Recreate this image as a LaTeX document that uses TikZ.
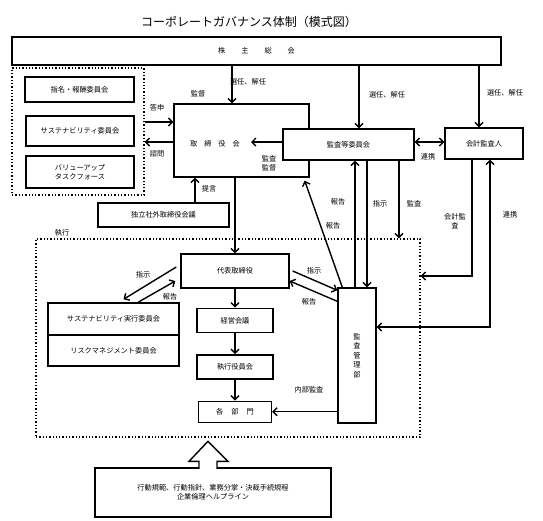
\documentclass[tikz,border=0pt]{standalone}
\usepackage{fontspec}
\setmainfont{Noto Sans CJK JP}
\usetikzlibrary{positioning, arrows.meta}
\newcommand{\smallja}{\fontsize{7.2}{9}\selectfont}

\begin{document}
\begin{tikzpicture}[
    x=1pt, y=-1pt,
    node distance = 19pt,
    box/.style = {rectangle, draw, line width=1.4pt, align=center, inner sep=1pt, font=\smallja, fill=white},
    grp/.style = {rectangle, draw, dotted, line width=1.3pt},
    lab/.style = {inner sep=0pt, align=center, font=\smallja},
    arrow/.style = {-{Straight Barb[length=4pt, width=8pt]}, line width=1.4pt},
    biarrow/.style = {{Straight Barb[length=4pt, width=8pt]}-{Straight Barb[length=4pt, width=8pt]}, line width=1.4pt}
]
    \useasboundingbox (0,0) rectangle (543,520);

    \node[font=\fontsize{12}{14}\selectfont] (TITLE) at (249,22) {コーポレートガバナンス体制（模式図）};

    \node[box, minimum width=489pt, minimum height=28pt] (AGM) at (256.5,51) {株\hspace{16pt}主\hspace{16pt}総\hspace{16pt}会};

    % left committees
    \node[grp, minimum width=132pt, minimum height=127pt] (GRP) at (78,131.5) {};
    \node[box, minimum width=109pt, minimum height=25pt] (NOMCOM) at (79.5,89.5) {指名・報酬委員会};
    \node[box, minimum width=108pt, minimum height=30pt] (SUSCOM) at (80,131) {サステナビリティ委員会};
    \node[box, minimum width=108pt, minimum height=32pt] (VALUP) at (80,172) {バリューアップ\\タスクフォース};

    \node[box, minimum width=135pt, minimum height=73pt] (BOARD) at (241.5,140.5) {};
    \node[lab] (BOARDTXT) at (215,144) {取\hspace{7pt}締\hspace{7pt}役\hspace{7pt}会};
    \node[box, minimum width=131pt, minimum height=31pt] (AUDCOM) at (348.5,144.5) {監査等委員会};
    \node[box, minimum width=78pt, minimum height=31pt] (ACCAUD) at (484,143.5) {会計監査人};
    \node[box, minimum width=131pt, minimum height=24pt] (INDEP) at (163.5,215) {独立社外取締役会議};

    % execution
    \node[grp, minimum width=384pt, minimum height=198pt] (EXEC) at (228,338) {};
    \node[lab] at (62,233) {執行};
    \node[box, minimum width=108pt, minimum height=34pt] (REP) at (235,271) {代表取締役};
    \node[box, minimum width=76pt, minimum height=24pt, below=of REP] (MGMT) {経営会議};
    \node[box, minimum width=76pt, minimum height=24pt, below=21pt of MGMT] (OFFICERS) {執行役員会};
    \node[box, minimum width=73pt, minimum height=21pt, below=21pt of OFFICERS] (DEPTS) {各\hspace{8pt}部\hspace{8pt}門};
    \node[box, minimum width=131pt, minimum height=32pt] (SUSEXE) at (113.5,319) {サステナビリティ実行委員会};
    \node[box, minimum width=131pt, minimum height=31pt, below=-1.4pt of SUSEXE] (RISK) {リスクマネジメント委員会};
    \node[box, minimum width=38pt, minimum height=135pt, font=\fontsize{7.2}{9.5}\selectfont] (IAD) at (357,355.5) {監\\査\\管\\理\\部};

    \node[box, minimum width=236pt, minimum height=49pt] (CODE) at (213,492.5) {行動規範、行動指針、業務分掌・決裁手続規程\\企業倫理ヘルプライン};
    \draw[line width=1.4pt, fill=white, shift={(CODE.north)}]
        (-14,1.5) -- (-14,-6) -- (-24,-6) -- (-5,-26) -- (15,-6) -- (4,-6) -- (4,1.5);

    % general meeting
    \draw[arrow] (232,0 |- AGM.south) -- (232,0 |- BOARD.north);
    \draw[arrow] (359,0 |- AGM.south) -- (359,0 |- AUDCOM.north);
    \draw[arrow] (479,0 |- AGM.south) -- (479,0 |- ACCAUD.north);
    \node[lab] at (248,82) {選任、解任};
    \node[lab] at (387,95) {選任、解任};
    \node[lab] at (505,93) {選任、解任};
    \node[lab] at (198,94) {監督};

    % board
    \draw[arrow] (GRP.east |- 0,122) -- (BOARD.west |- 0,122);
    \draw[arrow] (BOARD.west |- 0,142) -- (GRP.east |- 0,142);
    \node[lab] at (157,108) {答申};
    \node[lab] at (157,154) {諮問};
    \coordinate (BDIN) at (251,142);
    \draw[arrow] (AUDCOM.west |- BDIN) -- (BDIN);
    \node[lab] at (269,163) {監査\\監督};
    \draw[arrow] (195,0 |- INDEP.north) -- (195,0 |- BOARD.south);
    \node[lab] at (209,189) {提言};
    \draw[arrow] (REP.north |- BOARD.south) -- (REP.north);

    % audit committee
    \draw[biarrow] (AUDCOM.east |- 0,142) -- (ACCAUD.west |- 0,142);
    \node[lab] at (428,157) {連携};
    \draw[arrow] (355,0 |- IAD.north) -- (355,0 |- AUDCOM.south);
    \draw[arrow] (367,0 |- AUDCOM.south) -- (367,0 |- IAD.north);
    \draw[arrow] (399,0 |- AUDCOM.south) -- (399,0 |- EXEC.north);
    \node[lab] at (338,202) {報告};
    \node[lab] at (380,204) {指示};
    \node[lab] at (414,204) {監査};
    \draw[arrow] ([xshift=5pt]IAD.north west) -- ([xshift=-5pt,yshift=-3pt]BOARD.south east);
    \node[lab] at (333,226) {報告};

    % accounting auditor
    \draw[arrow] (472,0 |- ACCAUD.south) |- (EXEC.east |- 0,276);
    \node[lab] at (455,221) {会計監\\査};
    \draw[biarrow] (IAD.east |- 0,327) -| (490,0 |- ACCAUD.south);
    \node[lab] at (510,215) {連携};

    % execution line
    \draw[arrow] (REP) -- (MGMT);
    \draw[arrow] (MGMT) -- (OFFICERS);
    \draw[arrow] (OFFICERS) -- (DEPTS);
    \draw[arrow] ([xshift=-4pt,yshift=4pt]REP.west) -- ([xshift=10pt,yshift=3pt]SUSEXE.north);
    \draw[arrow] ([xshift=24.5pt]SUSEXE.north) -- ([xshift=-5pt,yshift=-10pt]REP.west);
    \node[lab] at (143,275) {指示};
    \node[lab] at (170,297) {報告};
    \draw[arrow] ([xshift=3pt]REP.east) -- ([yshift=-3pt]IAD.north west);
    \draw[arrow] ([yshift=-14pt]IAD.north west) -- ([yshift=-10pt]REP.east);
    \node[lab] at (314,271) {指示};
    \node[lab] at (309,302) {報告};
    \draw[arrow] (IAD.west |- DEPTS.east) -- (DEPTS.east);
    \node[lab] at (309,390) {内部監査};
\end{tikzpicture}
\end{document}
